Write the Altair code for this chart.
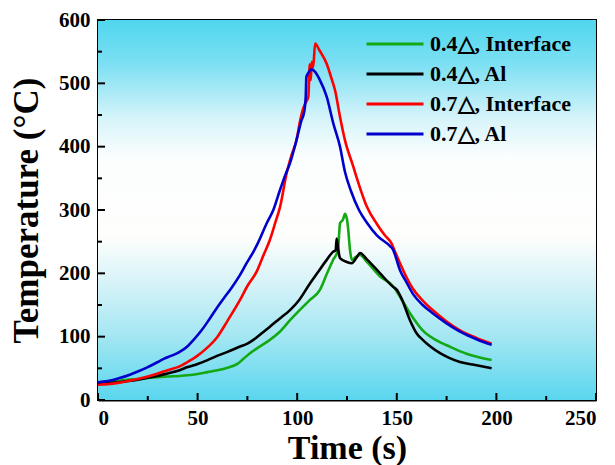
import altair as alt
import pandas as pd

# ---- data ----
series_names = ["0.4△, Interface", "0.4△, Al", "0.7△, Interface", "0.7△, Al"]
series_colors = ["#14a814", "#000000", "#ff0000", "#0000cc"]

t_green = [0, 5, 10, 15, 20, 25, 30, 35, 41, 45, 50, 55, 60, 65, 70, 73, 76, 80, 86.3, 91, 96.4, 100,
           106.4, 111.4, 115, 118, 120.5, 121, 121.5, 123, 124, 125, 125.5, 126.5, 127.4, 129, 131.5,
           135, 141.6, 148, 151.6, 156.6, 163, 170, 176.7, 185, 197.6]
T_green = [28, 29, 30, 32, 33, 35, 36, 37, 38, 39, 41, 44, 47, 51, 57, 65, 73, 82, 95, 107, 126, 138,
           158, 174, 200, 221, 237, 260, 279, 285, 294, 285, 273, 237, 221, 225, 229,
           218, 195, 180, 163, 137, 110, 94, 84, 73, 63]

t_black = [0, 5, 10, 15, 20, 25, 30, 35, 41, 45, 50, 55, 60, 65, 71, 75, 78, 82, 86, 91, 96.4, 101,
           106.4, 110, 115, 118, 119.3, 119.8, 120.5, 121.5, 124.9, 127.4, 130, 131.5, 135, 141.6, 148,
           150, 152.4, 156.6, 160, 163, 167, 171.7, 176, 181.7, 190, 197.6]
T_black = [26, 27, 28, 30, 32, 35, 38, 42, 47, 52, 57, 63, 70, 76, 84, 89, 95, 105, 115, 128, 142, 158,
           184, 200, 222, 234, 236, 255, 240, 224, 218, 216, 226, 232, 222, 200, 179,
           174, 160, 126, 105, 95, 84, 74, 67, 60, 55, 50]

t_red = [0, 5, 10, 15, 20, 25, 30, 35, 41, 45, 50, 55, 60, 65, 71.3, 75, 79.7, 83, 86.3, 89, 91.4,
         94.7, 97, 99.7, 101.4, 103, 104, 105.6, 106.3, 106.8, 107.3, 108, 109, 111, 114.8, 117,
         119, 121.5, 124, 128, 131, 135, 140, 144, 147.4, 149, 151.6, 155, 158, 163, 168, 175,
         181.7, 190, 197.6]
T_red = [24, 25, 27, 30, 33, 37, 42, 47, 53, 60, 70, 83, 100, 125, 158, 180, 203, 228, 253, 280, 305,
         358, 385, 411, 440, 460, 468, 479, 530, 505, 534, 525, 563, 553, 531, 510,
         489, 447, 410, 370, 340, 305, 278, 260, 247, 235, 216, 193, 176, 157, 142, 124,
         110, 98, 89]

t_blue = [0, 5, 10, 16, 20, 25, 30, 33, 37, 41, 45, 48, 52, 56, 60, 63, 67, 71, 74.6, 78, 80, 84.7,
          88, 91.4, 94, 96.4, 99.7, 102, 103.5, 104.3, 104.6, 105.5, 107.3, 109, 111.4, 114.8, 118.1,
          121.5, 124, 127, 131, 135, 140, 146.6, 148, 151.6, 155, 158, 163, 168, 175, 181.7, 190, 197.6]
T_blue = [28, 30, 34, 40, 45, 52, 60, 65, 70, 76, 85, 95, 110, 128, 147, 160, 177, 196, 216, 234, 246, 279,
          300, 332, 355, 374, 411, 440, 455, 480, 510, 516, 522, 518, 505, 479, 437,
          400, 360, 330, 300, 280, 260, 243, 238, 205, 185, 168, 150, 137, 121, 108, 96, 87]

x_major = [0, 50, 100, 150, 200, 250]
x_minor = [25, 75, 125, 175, 225]
y_major = [0, 100, 200, 300, 400, 500, 600]
y_minor = [50, 150, 250, 350, 450, 550]

rows = []
for name, ts, Ts in zip(series_names, [t_green, t_black, t_red, t_blue],
                        [T_green, T_black, T_red, T_blue]):
    for i, (t, T) in enumerate(zip(ts, Ts)):
        rows.append({"series": name, "t": t, "T": T, "i": i})
df = pd.DataFrame(rows)

W, H = 498, 380
FONT = "Liberation Serif"
XT = "Time (s)"
YT = "Temperature (°C)"

xscale = alt.Scale(domain=[0, 250], nice=False, zero=False)
yscale = alt.Scale(domain=[0, 600], nice=False, zero=False)
xaxis = alt.Axis(values=x_major, title=XT, format="d")
yaxis = alt.Axis(values=y_major, title=YT, format="d")

bg = alt.Chart(alt.Data(values=[{}])).mark_rect(
    color=alt.Gradient(
        gradient="linear", x1=0, y1=0, x2=0, y2=1,
        stops=[
            alt.GradientStop(offset=0.0, color="#4fd6ee"),
            alt.GradientStop(offset=0.12, color="#7fe0f3"),
            alt.GradientStop(offset=0.26, color="#d6f4fa"),
            alt.GradientStop(offset=0.36, color="#fbfefe"),
            alt.GradientStop(offset=0.57, color="#fefefc"),
            alt.GradientStop(offset=0.70, color="#d4f2f8"),
            alt.GradientStop(offset=0.84, color="#a0e6f2"),
            alt.GradientStop(offset=1.0, color="#5ad6ee"),
        ],
    )
).encode(x=alt.value(0), x2=alt.value(W), y=alt.value(0), y2=alt.value(H))

lines = alt.Chart(df).mark_line(strokeWidth=2.6, interpolate="monotone").encode(
    x=alt.X("t:Q", scale=xscale, axis=xaxis),
    y=alt.Y("T:Q", scale=yscale, axis=yaxis),
    color=alt.Color("series:N",
                    scale=alt.Scale(domain=series_names, range=series_colors),
                    legend=alt.Legend(title=None, orient="none", legendX=286, legendY=13,
                                      symbolType="M-3,0H3", symbolSize=361,
                                      symbolStrokeWidth=3, labelFont=FONT,
                                      labelFontSize=22, labelFontWeight="bold",
                                      labelColor="black", labelOffset=24,
                                      rowPadding=8, labelLimit=400)),
    order="i:Q",
)

xmaj = alt.Chart(pd.DataFrame({"v": x_major})).mark_rule(color="black", strokeWidth=2).encode(
    x=alt.X("v:Q", scale=xscale, axis=xaxis), y=alt.value(H), y2=alt.value(H - 7))
xmin = alt.Chart(pd.DataFrame({"v": x_minor})).mark_rule(color="black", strokeWidth=2).encode(
    x=alt.X("v:Q", scale=xscale, axis=xaxis), y=alt.value(H), y2=alt.value(H - 4))
ymaj = alt.Chart(pd.DataFrame({"v": y_major})).mark_rule(color="black", strokeWidth=2).encode(
    y=alt.Y("v:Q", scale=yscale, axis=yaxis), x=alt.value(0), x2=alt.value(7))
ymin = alt.Chart(pd.DataFrame({"v": y_minor})).mark_rule(color="black", strokeWidth=2).encode(
    y=alt.Y("v:Q", scale=yscale, axis=yaxis), x=alt.value(0), x2=alt.value(4))

chart = alt.layer(bg, lines, xmaj, xmin, ymaj, ymin).properties(
    width=W, height=H,
    autosize=alt.AutoSizeParams(type="none"),
    padding={"left": 90, "top": 12, "right": 11, "bottom": 65},
    background="white",
).configure_view(stroke="black", strokeWidth=2).configure_axis(
    labelFont=FONT, labelFontSize=21, labelFontWeight="bold", labelColor="black",
    titleFont=FONT, titleFontWeight="bold", titleColor="black",
    domainColor="black", domainWidth=2, ticks=False, grid=False,
).configure_axisX(labelPadding=7, titlePadding=3, titleFontSize=34).configure_axisY(
    labelPadding=8, titlePadding=14, titleFontSize=35)

chart.save("out.html", embed_options={"renderer": "svg", "actions": False})
